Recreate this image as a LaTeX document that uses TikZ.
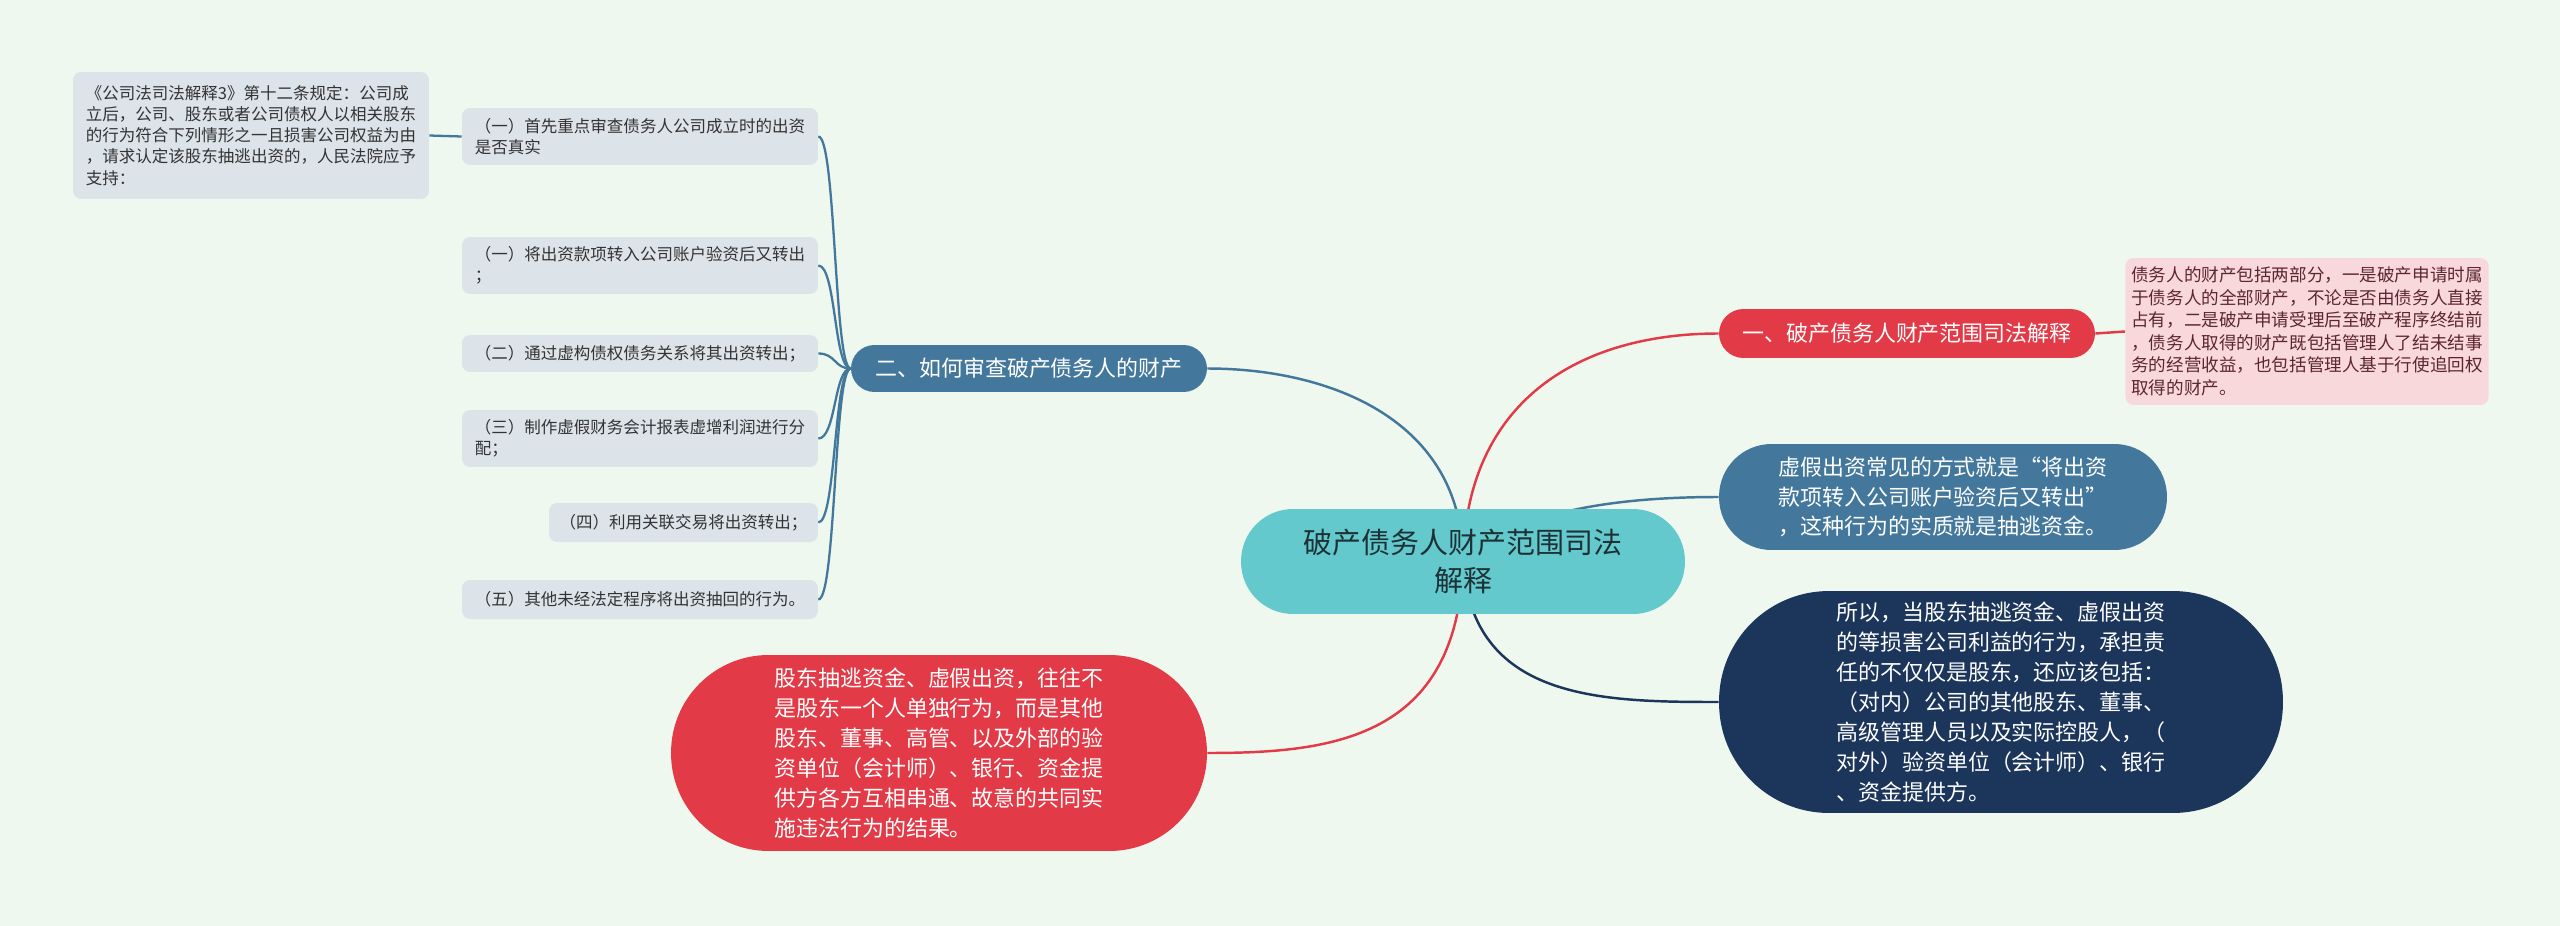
\documentclass[tikz,border=0pt]{standalone}
\usepackage{fontspec}
\setmainfont{Noto Sans CJK SC}
\usepackage{xcolor}
\definecolor{paper}{HTML}{EFF8EE}
\definecolor{leaffill}{HTML}{DCE3E9}
\definecolor{leafink}{HTML}{333333}
\definecolor{rootfill}{HTML}{63C9CD}
\definecolor{rootink}{HTML}{1E3236}
\definecolor{redfill}{HTML}{E23A47}
\definecolor{pinkfill}{HTML}{F9D8DC}
\definecolor{pinkink}{HTML}{5C2630}
\definecolor{steel}{HTML}{43789C}
\definecolor{navy}{HTML}{1C355B}
\usetikzlibrary{backgrounds}

\tikzset{
  leaf/.style = {
    fill            = leaffill,
    text            = leafink,
    rounded corners = 0.16cm,
    align           = left,
    inner xsep      = 0.12cm,
    font            = \fontsize{9.4}{12}\selectfont
  },
  pill/.style = {
    text            = white,
    align           = left,
    font            = \fontsize{12.5}{17}\selectfont
  },
  link/.style = {
    line width      = 1.4pt
  },
  twig/.style = {
    draw            = steel,
    line width      = 1.3pt
  }
}

\begin{document}
\begin{tikzpicture}[x=0.02cm, y=-0.02cm]
  \useasboundingbox (0,0) rectangle (2560,926);
  \begin{scope}[on background layer]
    \fill[paper] (0,0) rectangle (2560,926);
  \end{scope}

  % root
  \node[
    fill            = rootfill,
    text            = rootink,
    rounded corners = 1.04cm,
    minimum width   = 8.88cm,
    minimum height  = 2.1cm,
    align           = center,
    font            = \fontsize{16.5}{21.3}\selectfont
  ] (ctr) at (1463,561.5) {破产债务人财产范围司法\\解释};

  % left side
  \node[pill, fill=steel, rounded corners=0.47cm, minimum width=7.12cm, minimum height=0.94cm]
    (b2) at (1029,368.5) {二、如何审查破产债务人的财产};
  \node[leaf, minimum width=7.12cm, minimum height=1.14cm] (n1) at (640,136.5)
    {（一）首先重点审查债务人公司成立时的出资\\是否真实};
  \node[leaf, minimum width=7.12cm, minimum height=2.54cm] (note) at (251,135.5)
    {《公司法司法解释3》第十二条规定：公司成\\
     立后，公司、股东或者公司债权人以相关股东\\
     的行为符合下列情形之一且损害公司权益为由\\
     ，请求认定该股东抽逃出资的，人民法院应予\\
     支持：};
  \node[leaf, minimum width=7.12cm, minimum height=1.14cm] (n2) at (640,265.5)
    {（一）将出资款项转入公司账户验资后又转出\\；};
  \node[leaf, minimum width=7.12cm, minimum height=0.74cm] (n3) at (640,353.5)
    {（二）通过虚构债权债务关系将其出资转出；};
  \node[leaf, minimum width=7.12cm, minimum height=1.14cm] (n4) at (640,438.5)
    {（三）制作虚假财务会计报表虚增利润进行分\\配；};
  \node[leaf, minimum width=5.38cm, minimum height=0.78cm] (n5) at (683.5,522.5)
    {（四）利用关联交易将出资转出；};
  \node[leaf, minimum width=7.12cm, minimum height=0.78cm] (n6) at (640,599.5)
    {（五）其他未经法定程序将出资抽回的行为。};
  \node[pill, fill=redfill, rounded corners=1.95cm, minimum width=10.72cm, minimum height=3.92cm]
    (gd) at (939,753)
    {股东抽逃资金、虚假出资，往往不\\
     是股东一个人单独行为，而是其他\\
     股东、董事、高管、以及外部的验\\
     资单位（会计师）、银行、资金提\\
     供方各方互相串通、故意的共同实\\
     施违法行为的结果。};

  % right side
  \node[pill, fill=redfill, rounded corners=0.49cm, minimum width=7.52cm, minimum height=0.98cm]
    (r1) at (1907,333.5) {一、破产债务人财产范围司法解释};
  \node[
    fill            = pinkfill,
    text            = pinkink,
    rounded corners = 0.16cm,
    minimum width   = 7.12cm,
    minimum height  = 2.94cm,
    align           = left,
    font            = \fontsize{10}{12.8}\selectfont
  ] (pink) at (2307,331.5)
    {债务人的财产包括两部分，一是破产申请时属\\
     于债务人的全部财产，不论是否由债务人直接\\
     占有，二是破产申请受理后至破产程序终结前\\
     ，债务人取得的财产既包括管理人了结未结事\\
     务的经营收益，也包括管理人基于行使追回权\\
     取得的财产。};
  \node[pill, fill=steel, rounded corners=1.05cm, minimum width=8.96cm, minimum height=2.12cm]
    (fake) at (1943,497)
    {虚假出资常见的方式就是“将出资\\
     款项转入公司账户验资后又转出”\\
     ，这种行为的实质就是抽逃资金。};
  \node[pill, fill=navy, rounded corners=2.2cm, minimum width=11.28cm, minimum height=4.44cm]
    (so) at (2001,702)
    {所以，当股东抽逃资金、虚假出资\\
     的等损害公司利益的行为，承担责\\
     任的不仅仅是股东，还应该包括：\\
     （对内）公司的其他股东、董事、\\
     高级管理人员以及实际控股人，（\\
     对外）验资单位（会计师）、银行\\
     、资金提供方。};

  \begin{scope}[on background layer]
    \draw[link, steel]   (ctr.center) .. controls (1463,420) and (1330,368.5) .. (b2.east);
    \draw[link, redfill] (ctr.center) .. controls (1466,400) and (1580,333.5) .. (r1.west);
    \draw[link, steel]   (ctr.center) .. controls (1520,505) and (1640,497) .. (fake.west);
    \draw[link, navy]    (ctr.center) .. controls (1472,700) and (1600,702) .. (so.west);
    \draw[link, redfill] (ctr.center) .. controls (1458,740) and (1330,753) .. (gd.east);
    \draw[link, redfill] (r1.east) -- (pink.west);
    \foreach \leafname in {n1,n2,n3,n4,n5,n6}
      \draw[twig] (b2.west) .. controls (834,368.5) and (836,0 |- \leafname.east) .. (\leafname.east);
    \draw[twig] (n1.west) -- (note.east);
  \end{scope}
\end{tikzpicture}
\end{document}
